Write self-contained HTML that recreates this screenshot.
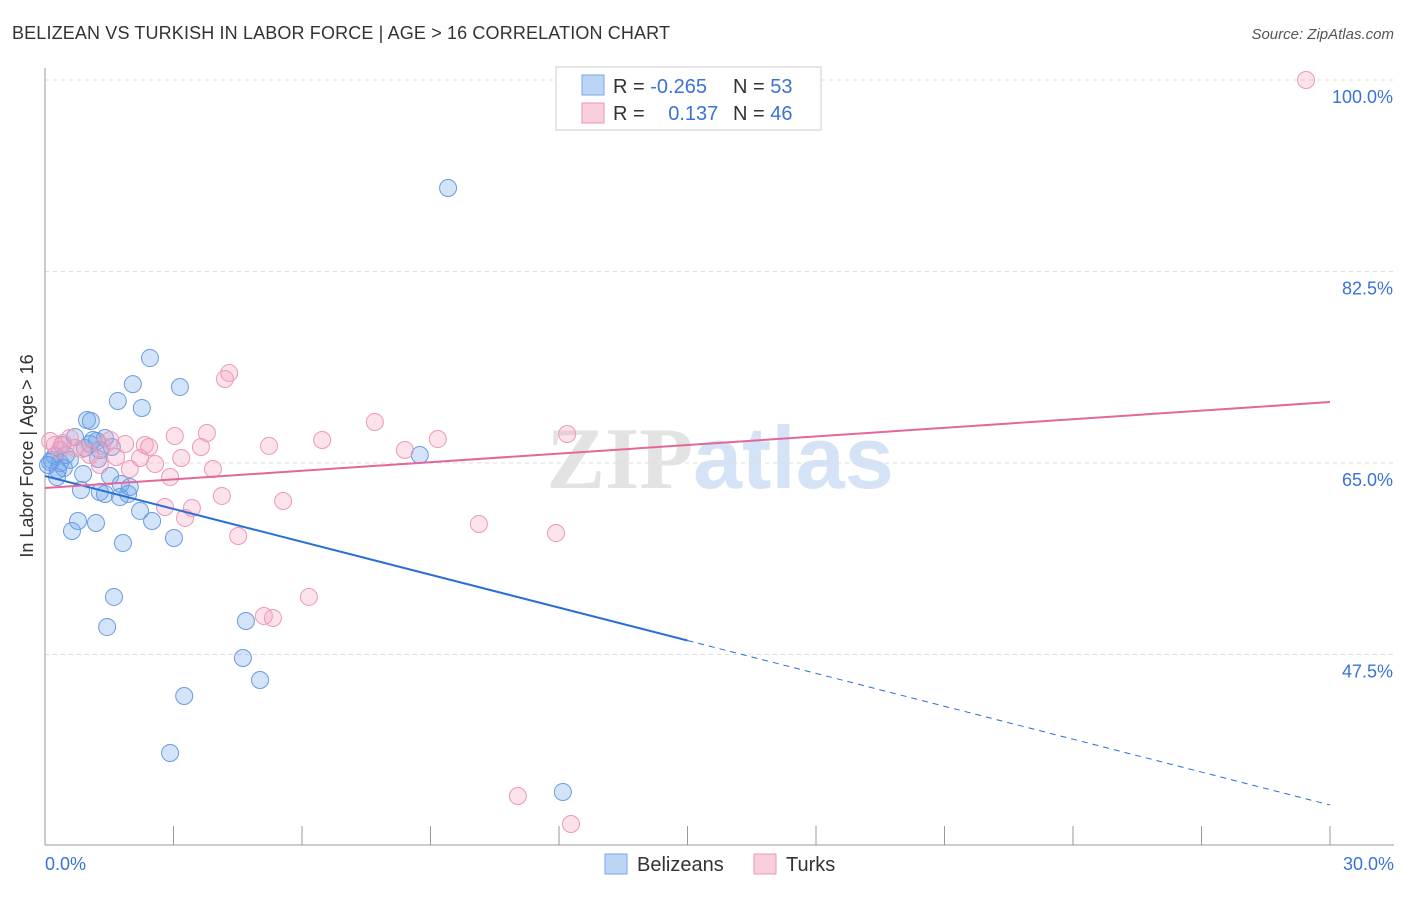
<!DOCTYPE html>
<html><head><meta charset="utf-8"><style>
body{margin:0;background:#fff;font-family:"Liberation Sans",sans-serif}
svg text{font-family:"Liberation Sans",sans-serif}
</style></head><body>
<svg id="chart" width="1406" height="892" xmlns="http://www.w3.org/2000/svg">
<text x="12" y="39" font-size="18" fill="#333" textLength="658">BELIZEAN VS TURKISH IN LABOR FORCE | AGE &gt; 16 CORRELATION CHART</text>
<text x="1394" y="39" font-size="15" fill="#555" text-anchor="end" font-style="italic">Source: ZipAtlas.com</text>
<text x="720" y="488" font-size="88" text-anchor="middle"><tspan fill="#e3e3e3" font-family="Liberation Serif" font-weight="bold">ZIP</tspan><tspan fill="#d5e3f6" font-weight="bold">atlas</tspan></text>
<text transform="translate(33,456) rotate(-90)" font-size="18" fill="#333" text-anchor="middle">In Labor Force | Age &gt; 16</text>
<g id="grid"></g><g id="axes"></g><g id="marks"></g>
<g>
<rect x="556" y="67" width="265" height="63" fill="#fff" stroke="#ccc"/>
<rect x="582" y="75" width="22" height="20" fill="#bcd5f5" stroke="#7aa6e6"/>
<text x="613" y="93" font-size="20" fill="#333">R = <tspan fill="#3a72d8">-0.265</tspan></text>
<text x="733" y="93" font-size="20" fill="#333">N = <tspan fill="#3a72d8">53</tspan></text>
<rect x="582" y="103" width="22" height="20" fill="#f9cedb" stroke="#e899b2"/>
<text x="613" y="120" font-size="20" fill="#333">R = <tspan fill="#3a72d8" dx="18">0.137</tspan></text>
<text x="733" y="120" font-size="20" fill="#333">N = <tspan fill="#3a72d8">46</tspan></text>
</g>
<g>
<rect x="605" y="854" width="22" height="20" fill="#bcd5f5" stroke="#7aa6e6"/>
<text x="637" y="871" font-size="20" fill="#333">Belizeans</text>
<rect x="754" y="854" width="22" height="20" fill="#f9cedb" stroke="#e899b2"/>
<text x="786" y="871" font-size="20" fill="#333">Turks</text>
</g>
</svg>
<script>
const yTicks=[100,82.5,65,47.5];
const yTickLabels=["100.0%","82.5%","65.0%","47.5%"];
const xTickLabels=["0.0%","30.0%"];
const belizeX=[9.41,2.45,2.05,3.15,1.70,2.26,0.98,1.07,8.75,1.40,1.21,0.70,1.05,1.28,0.40,0.23,0.16,0.35,0.58,1.24,0.44,0.28,0.89,1.52,1.77,0.84,1.28,1.40,1.94,1.75,2.22,0.77,1.19,2.50,0.63,3.01,1.82,1.61,1.45,4.69,4.62,5.02,3.25,2.92,12.09,0.12,0.07,0.49,0.93,1.56,0.30,1.12,1.98];
const belizeY=[90.13,74.59,72.21,71.94,70.67,70.03,68.93,68.84,65.73,67.29,67.01,67.38,66.74,66.19,66.65,65.64,65.28,65.00,65.28,65.37,64.54,63.72,64.00,63.81,63.08,62.53,62.35,62.17,62.17,61.89,60.62,59.70,59.52,59.70,58.79,58.15,57.69,52.76,50.01,50.56,47.18,45.17,43.71,38.50,34.94,65.09,64.82,65.73,66.37,66.46,64.36,67.10,62.81];
const turkX=[29.44,4.30,4.20,7.70,3.03,3.78,6.47,9.17,12.19,5.23,8.40,2.33,2.43,3.64,1.87,1.33,1.52,0.58,0.42,0.23,0.86,1.66,2.22,3.18,2.57,3.92,1.98,2.92,4.13,5.56,2.80,3.43,3.27,4.51,10.13,11.93,6.16,5.11,5.32,11.04,12.28,0.12,1.05,0.70,0.35,1.28];
const turkY=[100.0,73.23,72.68,68.75,67.47,67.74,67.10,67.19,67.65,66.56,66.19,66.65,66.46,66.46,66.74,66.56,67.10,67.29,66.83,66.65,66.28,65.55,65.46,65.46,64.91,64.45,64.45,63.72,61.99,61.53,60.98,60.89,59.98,58.33,59.43,58.60,52.76,51.02,50.84,34.57,32.01,67.01,65.73,66.37,66.19,64.82];
const blueTrend=[63.81,33.75];
const pinkTrend=[62.72,70.57];
const X=v=>45+v/30*1285;
const Y=v=>80+(100-v)*10.943;
const NS="http://www.w3.org/2000/svg";
function mk(tag,attrs,parent){const e=document.createElementNS(NS,tag);for(const k in attrs)e.setAttribute(k,attrs[k]);document.getElementById(parent).appendChild(e);return e;}
yTicks.forEach((t,i)=>{
 const g=mk('line',{x1:45,x2:1394,y1:Y(t),y2:Y(t),stroke:'#ddd','stroke-dasharray':'4,4'},'grid');
 
 
 const tx=mk('text',{x:1393,y:Y(t)+23,'font-size':18,fill:'#3a72d8','text-anchor':'end'},'axes');
 tx.textContent=yTickLabels[i];
 
 
});
const ax=mk('line',{x1:45,x2:45,y1:68,y2:845,stroke:'#999'},'axes');


const bx=mk('line',{x1:45,x2:1394,y1:845,y2:845,stroke:'#999'},'axes');


for(let i=1;i<=10;i++){
 const tk=mk('line',{x1:X(i*3),x2:X(i*3),y1:826,y2:845,stroke:'#999'},'axes');
 
 
}
[[0,'start',45],[30,'end',1394]].forEach((d,i)=>{
 const t=mk('text',{x:d[2],y:870,'font-size':18,fill:'#3a72d8','text-anchor':d[1]},'axes');
 t.textContent=xTickLabels[i];
 
 
});
belizeX.forEach((x,i)=>{
 const c=mk('circle',{cx:X(x),cy:Y(belizeY[i]),r:8.5,fill:'rgba(110,165,235,0.3)',stroke:'#6b9be0','stroke-width':1},'marks');
 
 
});
turkX.forEach((x,i)=>{
 const c=mk('circle',{cx:X(x),cy:Y(turkY[i]),r:8.5,fill:'rgba(245,160,190,0.3)',stroke:'#eb9ab5','stroke-width':1},'marks');
 
 
});
const bMid=blueTrend[0]+(blueTrend[1]-blueTrend[0])*0.5;
const l1=mk('line',{x1:X(0),y1:Y(blueTrend[0]),x2:X(15),y2:Y(bMid),stroke:'#2a6fd6','stroke-width':2},'marks');


const l2=mk('line',{x1:X(15),y1:Y(bMid),x2:X(30),y2:Y(blueTrend[1]),stroke:'#2a6fd6','stroke-width':1,'stroke-dasharray':'6,5'},'marks');


const l3=mk('line',{x1:X(0),y1:Y(pinkTrend[0]),x2:X(30),y2:Y(pinkTrend[1]),stroke:'#e4679a','stroke-width':2},'marks');


</script>
</body></html>
